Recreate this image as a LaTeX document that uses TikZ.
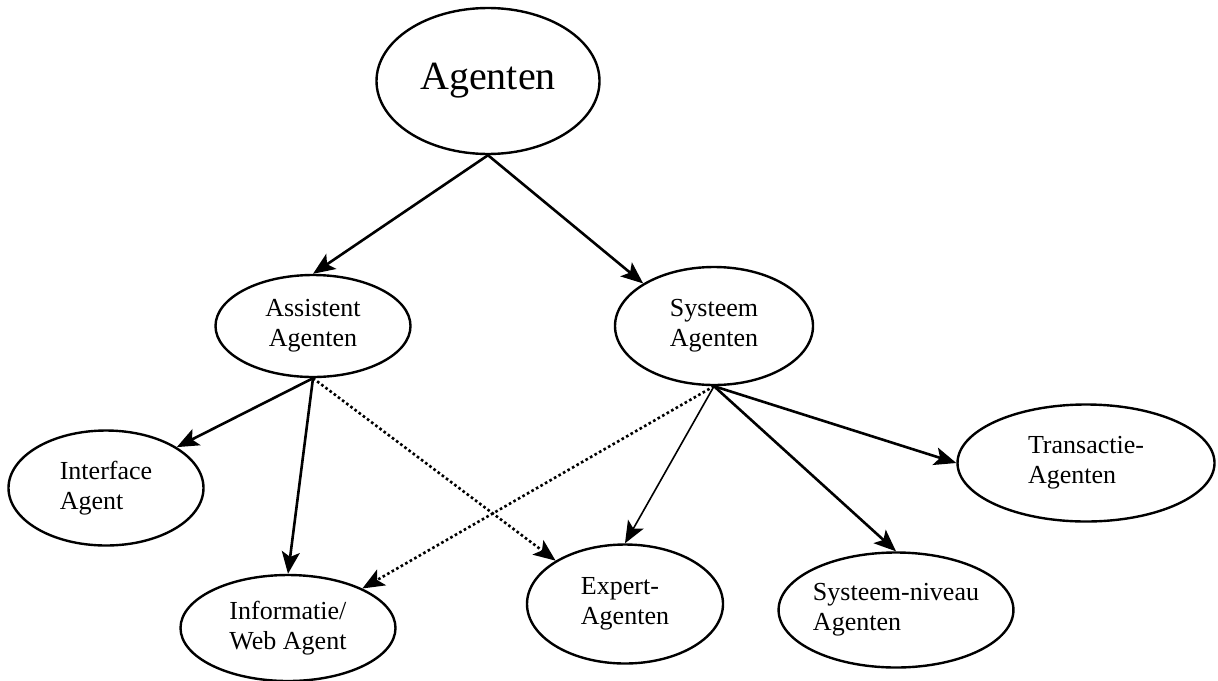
\documentclass[tikz,border=0pt]{standalone}
\usepackage{fontspec}
\setmainfont{Liberation Serif}
\usetikzlibrary{arrows.meta,shapes.geometric}

\begin{document}
\begin{tikzpicture}[x=0.5pt, y=-0.5pt,
        agent/.style={draw, ellipse, line width=1.2pt, inner sep=0pt, align=left,
                      font=\fontsize{13}{15}\selectfont},
        arr/.style={-{Stealth[length=11pt, width=9pt, inset=2.5pt]}, line width=1.3pt},
        thinarr/.style={arr, line width=0.8pt},
        dotarr/.style={arr, dash pattern=on 1.3pt off 1.3pt},
    ]
    \useasboundingbox (0,0) rectangle (1218,680);

    % Top level
    \node[agent, minimum width=111.5pt, minimum height=73pt,
          font=\fontsize{20}{24}\selectfont] (agenten) at (488,81) {\raisebox{-3pt}{Agenten}};

    % Second level
    \node[agent, minimum width=97.5pt, minimum height=51pt, align=center] (assist) at (313,326) {Assistent\\Agenten};
    \node[agent, minimum width=99pt, minimum height=59pt, align=center] (systeem) at (714,326) {Systeem\\Agenten};

    % Leaves
    \node[agent, minimum width=97.5pt, minimum height=57.5pt] (iface) at (106,488) {Interface\\Agent};
    \node[agent, minimum width=107.5pt, minimum height=53pt] (info) at (288,628) {Informatie/\\Web Agent};
    \node[agent, minimum width=98pt, minimum height=59.5pt] (expert) at (625,604) {Expert-\\Agenten};
    \node[agent, minimum width=106.5pt, minimum height=57.5pt] (sysniv) at (896,610) {Systeem-niveau\\Agenten};
    \node[agent, minimum width=128.5pt, minimum height=58.5pt] (trans) at (1086,463) {Transactie-\\Agenten};

    % Arrows — from Agenten
    \draw[arr] (agenten.south) -- (assist.north);
    \draw[arr] (agenten.south) -- (systeem.149);

    % Arrows — from Assistent Agenten
    \draw[arr] (assist.south) -- (iface.30);
    \draw[arr] (assist.south) -- (info.north);
    \draw[dotarr] (assist.south) -- (expert.148);

    % Arrows — from Systeem Agenten
    \draw[dotarr] (systeem.south) -- (info.28);
    \draw[thinarr] (systeem.south) -- (expert.north);
    \draw[arr] (systeem.south) -- (trans.west);
    \draw[arr] (systeem.south) -- (sysniv.north);
\end{tikzpicture}
\end{document}
